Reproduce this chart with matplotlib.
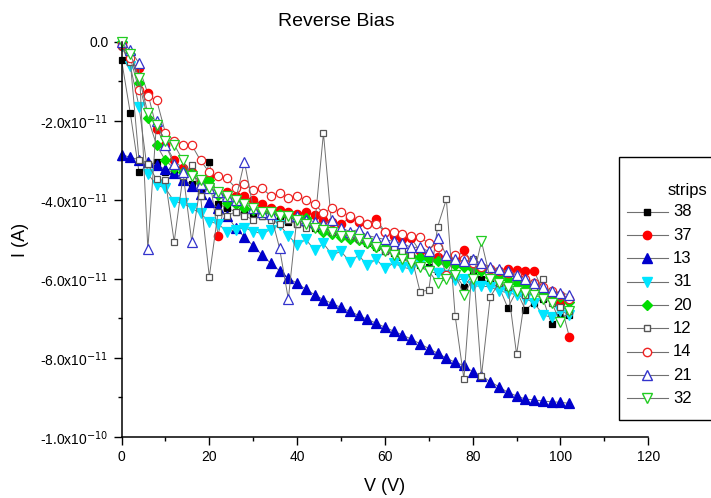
import matplotlib
matplotlib.use('Agg')
import matplotlib.pyplot as plt
from matplotlib.lines import Line2D
from matplotlib.patches import Rectangle
from matplotlib.ticker import MultipleLocator, FixedLocator

plt.rcParams['font.family'] = ['Liberation Sans', 'DejaVu Sans']

# bias voltage (V), same grid for every strip
volts = list(range(0, 104, 2))

# leakage current in units of 1e-11 A
strip_38 = [-0.45, -1.8, -3.3, -3.1, -3.05, -3.3, -3.35, -3.5, -3.6, -3.8,
            -3.05, -4.1, -4.2, -4.3, -4.35, -4.35, -4.4, -4.45, -4.5, -4.55,
            -4.6, -4.6, -4.7, -4.75, -4.8, -4.9, -4.95, -5.0, -5.1, -5.2,
            -5.3, -5.35, -5.45, -5.6, -5.65, -5.7, -5.8, -5.85, -5.9, -6.2,
            -5.9, -6.0, -6.1, -6.2, -6.73, -6.3, -6.78, -6.6, -6.5, -7.15,
            -6.97, -6.9]
strip_37 = [-0.1, -0.5, -0.66, -1.3, -2.2, -2.6, -3.0, -3.2, -3.3, -3.5,
            -3.4, -4.9, -3.8, -3.9, -3.9, -4.0, -4.1, -4.2, -4.25, -4.3,
            -4.35, -4.3, -4.38, -4.5, -4.55, -4.6, -4.46, -4.55, -4.6, -4.49,
            -4.8, -4.9, -5.0, -4.97, -5.3, -5.4, -5.45, -5.5, -5.5, -5.27,
            -5.6, -5.7, -5.75, -5.8, -5.75, -5.78, -5.79, -5.8, -6.3, -6.4,
            -6.6, -7.46]
strip_13 = [-2.85, -2.92, -2.98, -3.05, -3.12, -3.22, -3.32, -3.5, -3.65, -3.85,
            -4.05, -4.2, -4.4, -4.7, -4.94, -5.16, -5.39, -5.6, -5.79, -5.98,
            -6.11, -6.26, -6.4, -6.52, -6.62, -6.72, -6.82, -6.92, -7.02, -7.12,
            -7.22, -7.32, -7.42, -7.52, -7.64, -7.76, -7.88, -8.0, -8.11, -8.19,
            -8.35, -8.45, -8.6, -8.73, -8.87, -8.96, -9.04, -9.06, -9.09, -9.11,
            -9.12, -9.15]
strip_31 = [-0.1, -0.6, -1.64, -3.34, -3.62, -3.7, -4.04, -4.08, -4.21, -4.34,
            -4.55, -4.6, -4.8, -4.76, -4.7, -4.8, -4.85, -4.75, -4.63, -4.9,
            -5.14, -5.0, -5.27, -5.1, -5.39, -5.3, -5.56, -5.4, -5.65, -5.5,
            -5.73, -5.6, -5.7, -5.75, -5.6, -5.8, -5.86, -5.9, -6.03, -6.0,
            -6.18, -6.18, -6.2, -6.3, -6.35, -6.4, -6.5, -6.6, -6.91, -6.97,
            -6.8, -6.91]
strip_20 = [0.0, -0.3, -1.05, -1.93, -2.61, -3.0, -3.2, -3.28, -3.32, -3.58,
            -3.49, -3.87, -4.08, -4.1, -4.2, -4.25, -4.3, -4.3, -4.35, -4.4,
            -4.45, -4.46, -4.69, -4.8, -4.85, -4.94, -4.98, -5.01, -5.1, -5.18,
            -5.2, -5.27, -5.35, -5.43, -5.45, -5.5, -5.55, -5.6, -5.65, -5.7,
            -5.75, -5.8, -5.96, -5.9, -6.0, -6.1, -6.15, -6.2, -6.3, -6.35,
            -6.45, -6.57]
strip_12 = [-0.1, -0.5, -3.0, -3.1, -3.48, -3.5, -5.06, -3.4, -3.11, -3.9,
            -5.94, -4.3, -4.4, -4.3, -4.4, -4.5, -4.4, -4.5, -4.6, -4.5,
            -4.6, -4.7, -4.65, -2.31, -4.8, -4.8, -4.9, -5.0, -5.0, -5.1,
            -5.3, -5.2, -5.3, -5.4, -6.32, -6.28, -4.68, -3.98, -6.93, -8.53,
            -5.5, -8.45, -6.45, -6.1, -6.2, -7.91, -6.4, -6.3, -6.01, -6.6,
            -6.7, -6.8]
strip_14 = [-0.05, -0.4, -1.22, -1.38, -1.47, -2.3, -2.5, -2.6, -2.61, -3.0,
            -3.3, -3.4, -3.45, -3.7, -3.6, -3.75, -3.7, -3.9, -3.83, -3.96,
            -3.9, -4.0, -4.1, -4.34, -4.2, -4.3, -4.4, -4.5, -4.6, -4.6,
            -4.8, -4.8, -4.85, -4.9, -4.94, -5.1, -5.2, -5.9, -5.4, -5.5,
            -5.6, -5.7, -5.75, -5.8, -5.85, -5.9, -6.0, -6.1, -6.2, -6.3,
            -6.4, -6.5]
strip_21 = [0.0, -0.2, -0.54, -5.25, -2.0, -2.6, -3.1, -3.3, -5.06, -3.6,
            -3.7, -3.8, -3.9, -4.0, -3.03, -4.2, -4.3, -4.35, -5.22, -6.51,
            -4.4, -4.5, -4.55, -4.6, -4.5, -4.7, -4.8, -4.75, -4.9, -4.95,
            -5.0, -5.05, -5.1, -5.2, -5.2, -5.3, -4.95, -5.4, -5.5, -5.55,
            -5.5, -5.6, -5.7, -5.75, -5.8, -5.9, -6.0, -6.1, -6.2, -6.3,
            -6.35, -6.4]
strip_32 = [0.0, -0.3, -0.9, -1.8, -2.1, -2.5, -2.6, -3.0, -3.4, -3.5,
            -3.7, -3.8, -3.9, -4.0, -4.1, -4.2, -4.3, -4.3, -4.4, -4.4,
            -4.5, -4.6, -4.7, -4.75, -4.8, -4.9, -4.9, -5.0, -5.1, -5.2,
            -5.3, -5.4, -5.5, -5.6, -5.7, -5.8, -6.1, -6.0, -5.9, -6.4,
            -6.0, -5.05, -6.0, -6.1, -6.2, -6.3, -6.35, -6.4, -6.5, -6.6,
            -7.1, -6.8]

strip_names = ['38', '37', '13', '31', '20', '12', '14', '21', '32']
strip_data = [strip_38, strip_37, strip_13, strip_31, strip_20,
              strip_12, strip_14, strip_21, strip_32]

# marker, size, edge colour, face colour
styles = [
    ('s', 5.0, 'black', 'black'),
    ('o', 6.0, '#ff0000', '#ff0000'),
    ('^', 6.5, '#0000cc', '#0000cc'),
    ('v', 6.5, '#00e5ff', '#00e5ff'),
    ('D', 5.0, '#00dd00', '#00dd00'),
    ('s', 5.0, '#555555', 'white'),
    ('o', 6.0, '#ee2222', 'white'),
    ('^', 6.5, '#3333cc', 'white'),
    ('v', 6.5, '#22cc22', 'white'),
]
line_color = '#707070'

fig = plt.figure(figsize=(7.11, 4.98), dpi=100)
ax = fig.add_axes([0.1709, 0.1225, 0.7409, 0.7932])

for vals, (mk, ms, ec, fc) in zip(strip_data, styles):
    amps = [v * 1e-11 for v in vals]
    ax.plot(volts, amps, color=line_color, lw=0.7, marker=mk, ms=ms,
            mec=ec, mfc=fc, mew=0.9, clip_on=False)

ax.set_xlim(0, 120)
ax.set_ylim(-1e-10, 0)
ax.xaxis.set_major_locator(MultipleLocator(20))
ax.xaxis.set_minor_locator(MultipleLocator(10))
yticks = [0, -2e-11, -4e-11, -6e-11, -8e-11, -1e-10]
ax.yaxis.set_major_locator(FixedLocator(yticks))
ax.yaxis.set_minor_locator(MultipleLocator(1e-11))
ax.set_yticklabels(['0.0', r'-2.0x10$^{-11}$', r'-4.0x10$^{-11}$',
                    r'-6.0x10$^{-11}$', r'-8.0x10$^{-11}$', r'-1.0x10$^{-10}$'])
ax.tick_params(which='major', direction='out', length=6, width=1, labelsize=10)
ax.tick_params(which='minor', direction='out', length=3, width=1)
for side in ['top', 'right']:
    ax.spines[side].set_visible(False)
for side in ['left', 'bottom']:
    ax.spines[side].set_linewidth(1.1)

ax.set_xlabel('V (V)', fontsize=13, labelpad=10)
ax.set_ylabel('I (A)', fontsize=13, labelpad=8)
fig.text(336 / 711, 1 - 21 / 498, 'Reverse Bias', fontsize=14,
         ha='center', va='center')

# legend box drawn by hand so it runs off the right edge like the original
W, H = 711.0, 498.0
fig.patches.append(Rectangle((619 / W, 1 - 420 / H), 0.2, (420 - 157) / H,
                             transform=fig.transFigure, facecolor='white',
                             edgecolor='black', lw=1.0, zorder=5))
fig.text(668 / W, 1 - 190 / H, 'strips', fontsize=12, va='center',
         ha='left', zorder=6)
for i, (name, (mk, ms, ec, fc)) in enumerate(zip(strip_names, styles)):
    yy = 1 - (211.7 + i * 23.33) / H
    fig.add_artist(Line2D([627 / W, 668 / W], [yy, yy], color=line_color,
                          lw=0.8, transform=fig.transFigure, zorder=6))
    fig.add_artist(Line2D([647 / W], [yy], marker=mk, ms=ms, mec=ec, mfc=fc,
                          mew=1.0, transform=fig.transFigure, zorder=7))
    fig.text(673 / W, yy, name, fontsize=12, va='center', ha='left', zorder=7)

fig.savefig('out.png', dpi=100)
